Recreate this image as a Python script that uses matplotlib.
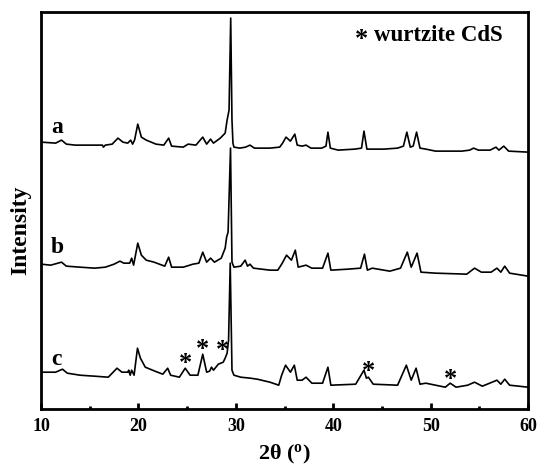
import matplotlib
matplotlib.use('Agg')
import matplotlib.pyplot as plt

plt.rcParams['font.family'] = ['Liberation Serif', 'DejaVu Serif']
plt.rcParams['font.weight'] = 'bold'
plt.rcParams['mathtext.fontset'] = 'custom'
plt.rcParams['mathtext.rm'] = 'Liberation Serif:bold'
plt.rcParams['mathtext.default'] = 'rm'

# XRD patterns of the three samples (2theta in degrees, intensity in a.u.)
two_theta_a = [10.0, 11.5, 12.1, 12.6, 13.5, 15.0, 16.3, 16.4, 16.6, 17.3, 17.9, 18.4, 18.9, 19.2,
               19.4, 19.6, 19.93, 20.3, 20.8, 21.8, 22.6, 23.1, 23.4, 24.6, 25.1, 25.9, 26.6, 27.0,
               27.4, 27.7, 28.4, 28.9, 29.1, 29.3, 29.47, 29.6, 29.7, 29.8, 30.4, 31.0, 31.45, 31.9,
               33.5, 34.5, 34.8, 35.15, 35.6, 36.05, 36.3, 36.8, 37.2, 37.7, 38.8, 39.25, 39.45, 39.7,
               40.5, 42.2, 42.9, 43.15, 43.45, 45.2, 46.6, 47.2, 47.55, 47.9, 48.2, 48.55, 48.9, 49.5,
               50.5, 53.2, 54.0, 54.4, 54.9, 56.1, 56.7, 57.0, 57.5, 58.0, 60.0]
intensity_a = [18, 17, 20, 16, 15, 15, 15, 13, 15, 16, 22, 18, 17, 20,
               16, 20, 36, 23, 20, 16, 15, 22, 14, 13, 16, 15, 23, 16,
               21, 17, 22, 27, 40, 50, 142, 40, 17, 13, 12, 13, 15, 12,
               12, 13, 17, 23, 19, 26, 15, 14, 15, 12, 12, 14, 28, 12,
               10, 11, 12, 29, 11, 11, 12, 14, 28, 13, 14, 28, 12, 11,
               9, 9, 10, 12, 10, 10, 13, 10, 14, 9, 8]

two_theta_b = [10.0, 11.0, 12.1, 12.6, 14.0, 15.5, 16.6, 17.5, 18.1, 18.5, 19.1, 19.3, 19.5, 19.93,
               20.3, 20.8, 21.6, 22.7, 23.1, 23.4, 24.6, 25.6, 26.2, 26.6, 27.0, 27.4, 27.8, 28.5,
               28.9, 29.05, 29.2, 29.45, 29.6, 29.8, 30.5, 30.95, 31.2, 31.45, 31.8, 33.5, 34.3, 34.7,
               35.2, 35.7, 36.1, 36.4, 37.2, 37.8, 38.9, 39.45, 39.75, 41.5, 42.8, 43.2, 43.5, 44.0,
               45.8, 46.9, 47.6, 48.0, 48.6, 49.0, 50.5, 53.7, 54.5, 55.2, 56.2, 56.8, 57.2, 57.6,
               58.1, 60.0]
intensity_b = [16, 15, 18, 14, 13, 12, 13, 16, 19, 17, 17, 22, 15, 37,
               25, 20, 18, 14, 23, 13, 13, 16, 17, 28, 18, 22, 18, 22,
               32, 43, 48, 132, 18, 13, 14, 20, 14, 16, 12, 10, 10, 16,
               25, 20, 30, 13, 15, 12, 12, 27, 10, 11, 12, 26, 10, 12,
               9, 12, 28, 13, 27, 8, 7, 6, 12, 8, 8, 12, 8, 14,
               7, 4]

two_theta_c = [10.0, 11.5, 12.2, 12.7, 14.0, 15.5, 16.9, 17.3, 17.8, 18.3, 18.9, 19.0, 19.15, 19.3,
               19.55, 19.9, 20.2, 20.7, 21.7, 22.5, 23.0, 23.3, 24.2, 24.8, 25.3, 26.1, 26.6, 27.0,
               27.3, 27.5, 27.7, 28.2, 28.7, 28.9, 29.1, 29.25, 29.42, 29.6, 29.8, 30.5, 31.5, 32.2,
               33.5, 34.4, 34.7, 35.1, 35.6, 36.0, 36.3, 36.8, 37.2, 37.8, 38.9, 39.45, 39.75, 42.3,
               43.15, 43.4, 43.6, 44.1, 46.6, 47.5, 48.0, 48.5, 48.9, 49.5, 51.5, 52.0, 52.6, 53.8,
               54.5, 55.3, 56.3, 56.8, 57.2, 57.6, 58.1, 60.0]
intensity_c = [20, 20, 23, 19, 17, 16, 15, 19, 24, 20, 20, 22, 17, 22,
               17, 44, 34, 25, 21, 18, 24, 17, 15, 24, 17, 17, 38, 20,
               21, 25, 22, 28, 30, 34, 39, 52, 129, 22, 17, 15, 14, 13,
               10, 7, 17, 27, 20, 27, 12, 12, 15, 9, 9, 25, 7, 8,
               22, 14, 15, 8, 7, 27, 12, 24, 8, 9, 5, 9, 5, 7,
               10, 6, 10, 12, 8, 13, 7, 5]

sample_labels = ['a', 'b', 'c']
# wurtzite CdS reflections marked on pattern c
cds_two_theta = [24.8, 26.6, 28.6, 43.6, 52.0]
cds_mark_y = [29, 43, 42, 21, 13]

offsets = [249, 129, 17]

fig, ax = plt.subplots(figsize=(5.4, 4.65), dpi=100)
plt.subplots_adjust(left=0.076, right=0.978, top=0.974, bottom=0.120)

patterns = [(two_theta_a, intensity_a), (two_theta_b, intensity_b), (two_theta_c, intensity_c)]
for (tt, inten), off, lab in zip(patterns, offsets, sample_labels):
    ax.plot(tt, [v + off for v in inten], color='black', lw=1.2)
    ax.text(11.0, off + 27, lab, fontsize=17, fontweight='bold', ha='left', va='baseline')

for x, y in zip(cds_two_theta, cds_mark_y):
    ax.text(x, y + offsets[2], '*', fontsize=19, fontweight='bold', ha='center', va='center')

# legend note: star marker + phase name
ax.text(42.9, 370, '*', fontsize=19, fontweight='bold', ha='center', va='center')
ax.text(44.2, 374, 'wurtzite CdS', fontsize=16.5, fontweight='bold', ha='left', va='center')

ax.set_xlim(10, 60)
ax.set_ylim(0, 397)
ax.set_xticks([10, 20, 30, 40, 50, 60])
ax.set_xticks([15, 25, 35, 45, 55], minor=True)
ax.set_yticks([])
ax.tick_params(axis='x', which='major', direction='in', length=4.5, width=2, labelsize=13, pad=6)
ax.tick_params(axis='x', which='minor', direction='in', length=2.5, width=2)
for sp in ax.spines.values():
    sp.set_linewidth(2)

ax.set_xlabel(r'2θ ($^{o}$)', fontsize=16, fontweight='bold', labelpad=6)
ax.set_ylabel('Intensity', fontsize=17, fontweight='bold')
ax.yaxis.set_label_coords(-0.02, 0.45)

plt.savefig('out.png', dpi=100)
